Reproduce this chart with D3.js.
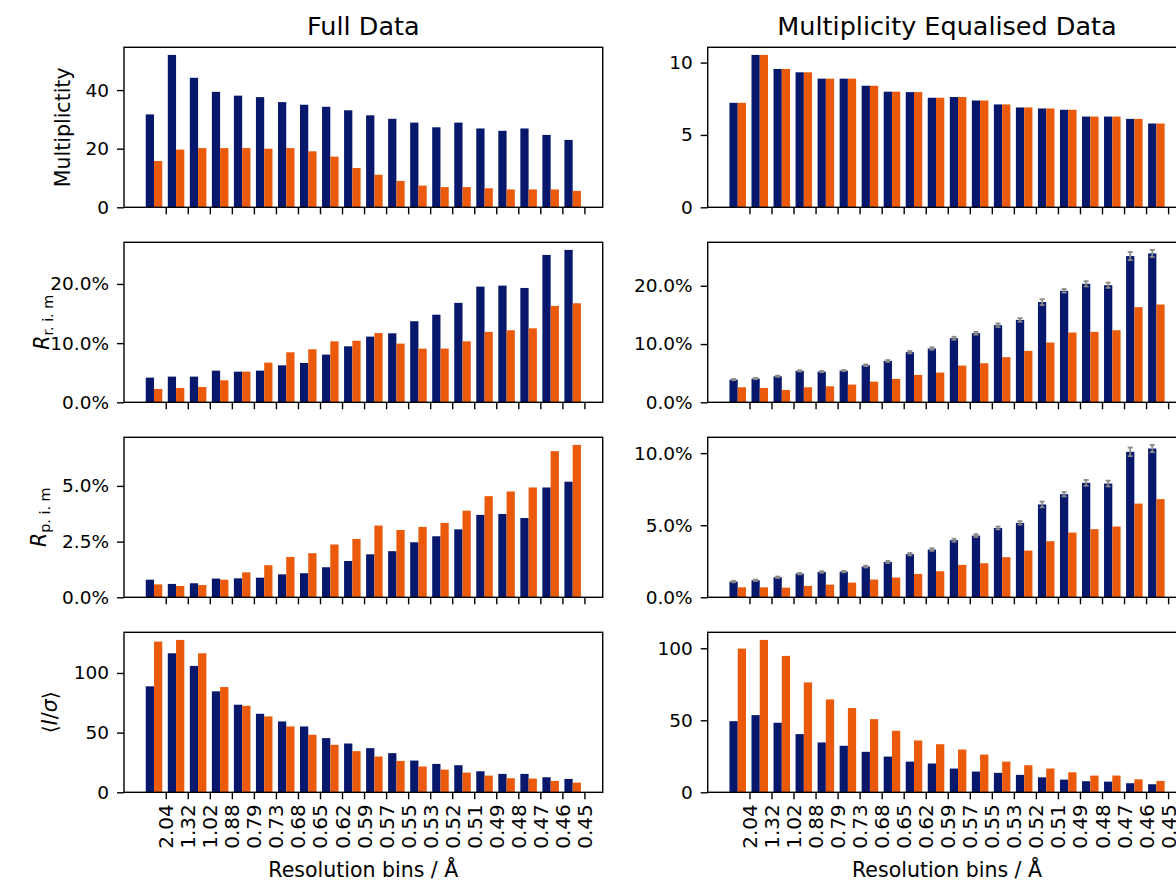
<!DOCTYPE html>
<html>
<head>
<meta charset="utf-8">
<script src="https://cdn.jsdelivr.net/npm/d3@7"></script>
<style>
  body { margin: 0; background: #fff; }
  svg { display: block; font-family: "DejaVu Sans", sans-serif; }
</style>
</head>
<body>
<div id="chart"></div>
<script>
// resolution bin labels (x axis)
var bins = ["2.04","1.32","1.02","0.88","0.79","0.73","0.68","0.65","0.62","0.59",
            "0.57","0.55","0.53","0.52","0.51","0.49","0.48","0.47","0.46","0.45"];

// Full data
var multFullNavy   = [31.7,52.0,44.2,39.4,38.1,37.6,35.9,35.0,34.3,33.1,31.4,30.2,28.9,27.3,28.9,26.9,26.1,26.9,24.7,23.0];
var multFullOrange = [15.8,19.7,20.2,20.2,20.2,20.0,20.2,19.1,17.3,13.4,11.1,9.0,7.4,6.9,6.9,6.5,6.1,6.1,6.1,5.6];
var rrimFullNavy   = [4.17,4.34,4.34,5.35,5.18,5.35,6.25,6.65,8.06,9.46,11.1,11.66,13.7,14.8,16.8,19.55,19.72,19.32,24.9,25.75];
var rrimFullOrange = [2.25,2.42,2.59,3.72,5.18,6.7,8.45,8.96,10.3,10.4,11.7,9.92,9.07,9.07,10.3,11.9,12.17,12.5,16.28,16.73];
var rpimFullNavy   = [0.79,0.60,0.63,0.84,0.85,0.88,1.03,1.08,1.35,1.63,1.93,2.07,2.47,2.74,3.05,3.70,3.74,3.56,4.93,5.19];
var rpimFullOrange = [0.58,0.51,0.55,0.79,1.12,1.44,1.81,1.98,2.37,2.62,3.22,3.02,3.16,3.34,3.89,4.54,4.75,4.93,6.56,6.84];
var isigFullNavy   = [88.8,116.5,105.9,84.6,73.4,65.8,59.4,55.2,45.4,40.9,37.0,32.8,26.6,23.8,22.7,17.6,15.4,15.4,12.6,11.2];
var isigFullOrange = [126.3,127.7,116.5,88.2,72.5,63.6,55.2,48.2,39.8,34.5,30.0,26.3,21.6,19.0,16.5,14.0,11.8,11.5,9.5,8.1];

// Multiplicity equalised data
var multEqNavy   = [7.22,10.53,9.56,9.33,8.89,8.89,8.40,7.99,7.96,7.57,7.62,7.38,7.11,6.90,6.83,6.74,6.27,6.27,6.11,5.79];
var multEqOrange = [7.22,10.53,9.56,9.33,8.89,8.89,8.40,7.99,7.96,7.57,7.62,7.38,7.11,6.90,6.83,6.74,6.27,6.27,6.11,5.79];
var rrimEqNavy   = [3.9,4.07,4.47,5.39,5.27,5.44,6.36,7.1,8.6,9.23,11.0,11.86,13.24,14.15,17.2,19.14,20.34,20.1,25.1,25.56];
var rrimEqErr    = [0.1,0.1,0.1,0.1,0.1,0.1,0.15,0.15,0.2,0.2,0.25,0.25,0.3,0.3,0.5,0.3,0.45,0.45,0.7,0.6];
var rrimEqOrange = [2.58,2.46,2.12,2.58,2.75,3.04,3.55,4.01,4.7,5.1,6.3,6.7,7.74,8.83,10.26,11.98,12.09,12.38,16.33,16.79];
var rpimEqNavy   = [1.09,1.18,1.39,1.64,1.76,1.78,2.13,2.45,2.99,3.31,3.96,4.28,4.81,5.16,6.44,7.15,7.94,7.89,10.09,10.32];
var rpimEqErr    = [0.05,0.05,0.05,0.05,0.05,0.05,0.06,0.07,0.08,0.09,0.1,0.1,0.1,0.12,0.2,0.15,0.2,0.2,0.3,0.25];
var rpimEqOrange = [0.69,0.69,0.67,0.79,0.88,1.02,1.23,1.37,1.62,1.81,2.25,2.36,2.78,3.24,3.89,4.49,4.72,4.91,6.5,6.81];
var isigEqNavy   = [49.4,53.6,48.3,40.4,34.6,32.3,28.1,24.8,21.3,20.0,16.5,14.4,13.5,12.1,10.4,8.8,7.7,7.4,6.3,5.6];
var isigEqOrange = [99.8,105.8,94.7,76.3,64.5,58.5,50.8,42.7,36.0,33.4,29.7,26.2,21.3,18.8,16.5,13.9,11.6,11.6,9.0,7.9];

// y tick values per row
var multFullTicks = [0,20,40], multEqTicks = [0,5,10];
var rrimTicks = [0,10,20];
var rpimFullTicks = [0,2.5,5], rpimEqTicks = [0,5,10];
var isigTicks = [0,50,100];

var colTitles = ["Full Data", "Multiplicity Equalised Data"];
var xLabel = "Resolution bins / \u00C5";

var navy = "#07186c", orange = "#ea5a0a";

var W = 1176, H = 882;
var colX = [124, 707.7];
var panelW = 478.7, panelH = 160;
var rowTop = 47.3, rowStep = 195;
var barW = 0.375, tickOff = 0.72;
var xTickFont = 20, yTickFont = 18.5, labelFont = 20.5, titleFont = 25.5;
// baseline x of each row's y label (page pixels)
var labelX = [70, 49, 46, 57];

var pct = function (d) { return d3.format(".1f")(d) + "%"; };
var plain = function (d) { return d3.format("d")(d); };

// one entry per panel, built from the arrays above
var panels = [
  {row:0, col:0, a:multFullNavy, b:multFullOrange, ticks:multFullTicks, fmt:plain, label:"mult"},
  {row:0, col:1, a:multEqNavy,   b:multEqOrange,   ticks:multEqTicks,   fmt:plain},
  {row:1, col:0, a:rrimFullNavy, b:rrimFullOrange, ticks:rrimTicks,     fmt:pct, label:"rrim"},
  {row:1, col:1, a:rrimEqNavy,   b:rrimEqOrange,   err:rrimEqErr, ticks:rrimTicks, fmt:pct},
  {row:2, col:0, a:rpimFullNavy, b:rpimFullOrange, ticks:rpimFullTicks, fmt:pct, label:"rpim"},
  {row:2, col:1, a:rpimEqNavy,   b:rpimEqOrange,   err:rpimEqErr, ticks:rpimEqTicks, fmt:pct},
  {row:3, col:0, a:isigFullNavy, b:isigFullOrange, ticks:isigTicks,     fmt:plain, label:"isig"},
  {row:3, col:1, a:isigEqNavy,   b:isigEqOrange,   ticks:isigTicks,     fmt:plain}
];

var svg = d3.select("#chart").append("svg")
    .attr("width", W)
    .attr("height", H);

var x = d3.scaleLinear().domain([-1.175, 20.55]).range([0, panelW]);
var idx = d3.range(bins.length);

panels.forEach(function (p) {
  var g = svg.append("g")
      .attr("transform", "translate(" + colX[p.col] + "," + (rowTop + p.row * rowStep) + ")");

  var top = d3.max(idx, function (i) {
    return Math.max(p.a[i] + (p.err ? p.err[i] : 0), p.b[i]);
  });
  var y = d3.scaleLinear().domain([0, top * 1.05]).range([panelH, 0]);

  // navy bars
  g.selectAll("rect.navy")
      .data(idx)
      .enter().append("rect")
      .attr("class", "navy")
      .attr("x", function (i) { return x(i - barW / 2); })
      .attr("width", x(barW) - x(0))
      .attr("y", function (i) { return y(p.a[i]); })
      .attr("height", function (i) { return y(0) - y(p.a[i]); })
      .attr("fill", navy);

  // orange bars
  g.selectAll("rect.orange")
      .data(idx)
      .enter().append("rect")
      .attr("class", "orange")
      .attr("x", function (i) { return x(i + barW / 2); })
      .attr("width", x(barW) - x(0))
      .attr("y", function (i) { return y(p.b[i]); })
      .attr("height", function (i) { return y(0) - y(p.b[i]); })
      .attr("fill", orange);

  // error bars on the navy bars
  if (p.err) {
    var eb = g.selectAll("g.err").data(idx).enter().append("g")
        .attr("stroke", "#8a8a8a")
        .attr("stroke-width", 1.8);
    eb.append("line")
        .attr("x1", function (i) { return x(i); })
        .attr("x2", function (i) { return x(i); })
        .attr("y1", function (i) { return y(p.a[i] - p.err[i]); })
        .attr("y2", function (i) { return y(p.a[i] + p.err[i]); });
    [-1, 1].forEach(function (s) {
      eb.append("line")
          .attr("x1", function (i) { return x(i) - 2.5; })
          .attr("x2", function (i) { return x(i) + 2.5; })
          .attr("y1", function (i) { return y(p.a[i] + s * p.err[i]); })
          .attr("y2", function (i) { return y(p.a[i] + s * p.err[i]); });
    });
  }

  // x axis: ticks everywhere, labels on the bottom row only
  var xa = g.append("g")
      .attr("transform", "translate(0," + panelH + ")")
      .call(d3.axisBottom(x)
        .tickValues(idx.map(function (i) { return i + tickOff; }))
        .tickSize(7)
        .tickFormat(function (d, k) { return p.row === 3 ? bins[k] : ""; }));
  xa.select(".domain").remove();
  xa.selectAll("line").attr("stroke", "#000").attr("stroke-width", 1.4);
  xa.selectAll("text")
      .attr("transform", "rotate(-90)")
      .attr("x", -12)
      .attr("y", 0)
      .attr("dy", "0.35em")
      .style("text-anchor", "end")
      .style("font-size", xTickFont + "px")
      .style("font-family", "DejaVu Sans")
      .attr("fill", "#000");

  // y axis
  var ya = g.append("g")
      .call(d3.axisLeft(y).tickValues(p.ticks).tickSize(7).tickPadding(8).tickFormat(p.fmt));
  ya.select(".domain").remove();
  ya.selectAll("line").attr("stroke", "#000").attr("stroke-width", 1.4);
  ya.selectAll("text")
      .style("font-size", yTickFont + "px")
      .style("font-family", "DejaVu Sans")
      .attr("fill", "#000");

  // frame
  g.append("rect")
      .attr("width", panelW)
      .attr("height", panelH)
      .attr("fill", "none")
      .attr("stroke", "#000")
      .attr("stroke-width", 1.4);

  // y label
  if (p.label) {
    var lab = g.append("text")
        .attr("transform", "translate(" + (labelX[p.row] - colX[0]) + "," + (panelH / 2) + ") rotate(-90)")
        .attr("text-anchor", "middle")
        .style("font-size", labelFont + "px");
    if (p.label === "mult") {
      lab.text("Multiplictity");
    } else if (p.label === "rrim" || p.label === "rpim") {
      lab.append("tspan").style("font-style", "italic").text("R");
      lab.append("tspan").attr("dy", "0.3em").style("font-size", (labelFont * 0.7) + "px")
          .text(p.label === "rrim" ? "r. i. m" : "p. i. m");
    } else {
      lab.append("tspan").text("\u27E8");
      lab.append("tspan").style("font-style", "italic").text("I");
      lab.append("tspan").text("/");
      lab.append("tspan").style("font-style", "italic").text("\u03C3");
      lab.append("tspan").text("\u27E9");
    }
  }

  // column title and bottom label
  if (p.row === 0) {
    g.append("text")
        .attr("x", panelW / 2)
        .attr("y", 35 - rowTop)
        .attr("text-anchor", "middle")
        .style("font-size", titleFont + "px")
        .text(colTitles[p.col]);
  }
  if (p.row === 3) {
    g.append("text")
        .attr("x", panelW / 2)
        .attr("y", 877 - (rowTop + 3 * rowStep))
        .attr("text-anchor", "middle")
        .style("font-size", labelFont + "px")
        .text(xLabel);
  }
});
</script>
</body>
</html>
